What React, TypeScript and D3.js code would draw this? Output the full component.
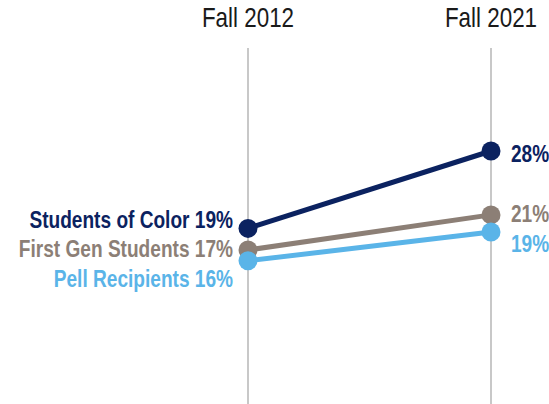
import React from 'react';
import * as d3 from 'd3';

// periods on the x axis
const periods = ['Fall 2012', 'Fall 2021'];
const groups = ['Students of Color', 'First Gen Students', 'Pell Recipients'];
// share (%) for each group
const fall2012 = [19.4, 17.0, 15.8];
const fall2021 = [28.0, 20.9, 19.0];
const colors = ['#0b2260', '#8c7f76', '#5ab4e8'];

const width = 549;
const height = 404;
// label nudges (px) so the labels don't collide, like the original
const leftNudge = [0, 7, 26];
const rightNudge = [11, 7, 20];

// no narrow font installed -> squeeze Liberation Sans horizontally
const FONT = '"Liberation Sans", Arial, sans-serif';
const NARROW = 0.83;

type LabelProps = {
  x: number;
  y: number;
  anchor?: 'start' | 'middle' | 'end';
  size: number;
  bold?: boolean;
  fill: string;
  children: React.ReactNode;
};

const Label = ({ x, y, anchor = 'start', size, bold, fill, children }: LabelProps) => (
  <text
    transform={`translate(${x},${y}) scale(${NARROW},1)`}
    textAnchor={anchor}
    fontFamily={FONT}
    fontWeight={bold ? 'bold' : 'normal'}
    fontSize={size}
    fill={fill}
  >
    {children}
  </text>
);

export default function App() {
  const x = d3.scalePoint<string>().domain(periods).range([248, 491]);
  const y = d3.scaleLinear().domain([0, 40]).range([403, 43]);

  const series = groups.map((g, i) => ({
    name: g,
    color: colors[i],
    values: [fall2012[i], fall2021[i]],
  }));

  const line = d3
    .line<number>()
    .x((_, j) => x(periods[j])!)
    .y((d) => y(d));

  return (
    <svg
      width={width}
      height={height}
      style={{ position: 'absolute', left: 0, top: 0, background: '#fff' }}
    >
      {/* column headers + gridlines */}
      {periods.map((p) => (
        <g key={p}>
          <Label x={x(p)!} y={27} anchor="middle" size={27} fill="#1a1a1a">
            {p}
          </Label>
          <line x1={x(p)} x2={x(p)} y1={48} y2={height} stroke="#ababab" strokeWidth={1.3} />
        </g>
      ))}

      {series.map((s) => (
        <path key={s.name} d={line(s.values)!} fill="none" stroke={s.color} strokeWidth={5} />
      ))}

      {series.map((s, i) => (
        <g key={s.name + '-pts'}>
          {s.values.map((v, j) => (
            <circle key={j} cx={x(periods[j])} cy={y(v)} r={9.5} fill={s.color} />
          ))}
          <Label
            x={x(periods[0])! - 15}
            y={y(s.values[0]) + leftNudge[i]}
            anchor="end"
            size={23}
            bold
            fill={s.color}
          >
            {`${s.name} ${Math.round(s.values[0])}%`}
          </Label>
          <Label
            x={x(periods[1])! + 20}
            y={y(s.values[1]) + rightNudge[i]}
            size={23}
            bold
            fill={s.color}
          >
            {`${Math.round(s.values[1])}%`}
          </Label>
        </g>
      ))}
    </svg>
  );
}
